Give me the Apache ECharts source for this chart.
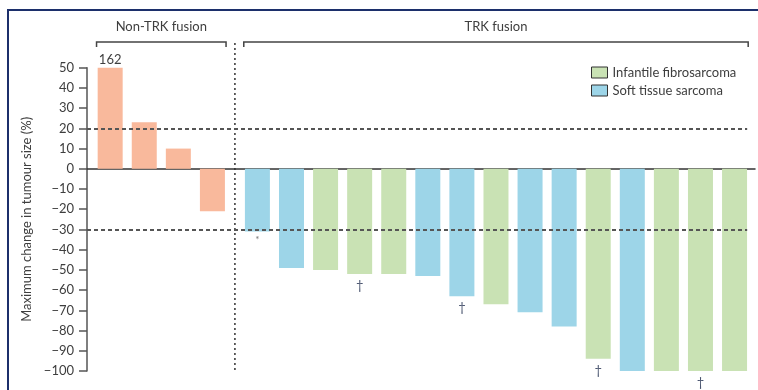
<!DOCTYPE html>
<html>
<head>
<meta charset="utf-8">
<script src="https://cdn.jsdelivr.net/npm/echarts@6/dist/echarts.min.js"></script>
<style>
  html, body { margin: 0; padding: 0; background: #fff; }
  #wrap { position: relative; width: 758px; height: 390px; overflow: hidden; }
  #chart { position: absolute; left: 0; top: 0; width: 758px; height: 390px; }
  #frame { position: absolute; left: 7px; top: 9px; width: 800px; height: 420px;
           border-top: 2px solid #1c2f6b; border-left: 2px solid #1c2f6b; pointer-events: none; }
</style>
</head>
<body>
<div id="wrap"><div id="chart"></div><div id="frame"></div></div>
<script>
// ---- data ----
const groupLabels = ['Non-TRK fusion', 'TRK fusion'];
const nonTrkValues = [162, 23, 10, -21];
const trkValues = [-31, -49, -50, -52, -52, -53, -63, -67, -71, -78, -94, -100, -100, -100, -100];
const trkTypes = ['S', 'S', 'I', 'I', 'I', 'S', 'S', 'I', 'S', 'S', 'I', 'S', 'I', 'I', 'I'];
const trkNotes = ['*', '', '', '†', '', '', '†', '', '', '', '†', '', '', '†', ''];
const typeNames = { I: 'Infantile fibrosarcoma', S: 'Soft tissue sarcoma' };
const thresholds = [20, -30];
const yMin = -100, yMax = 50, yStep = 10;
const yAxisName = 'Maximum change in tumour size (%)';

// ---- layout constants ----
const FONT = 'Lato, "Liberation Sans", sans-serif';
const TEXT = '#3e3e3e';
const NON_START = 0.68, TRK_START = 5.0, HALF = 0.4, X_MAX = 19.6;
const SEP_X = (NON_START + nonTrkValues.length - 1 + TRK_START) / 2;
const colors = { N: '#f9b99c', I: '#c9e2b4', S: '#9dd5e8' };

const nonData = nonTrkValues.map((v, i) => {
  const item = { value: [NON_START + i, Math.min(v, yMax)] };
  if (v > yMax) item.label = { show: true, position: 'top', distance: 1, formatter: String(v),
    color: TEXT, fontSize: 13, fontFamily: FONT };
  return item;
});
function trkData(type) {
  const out = [];
  trkValues.forEach((v, i) => {
    if (trkTypes[i] !== type) return;
    const item = { value: [TRK_START + i, v] };
    if (trkNotes[i]) item.label = { show: true, position: 'bottom', distance: trkNotes[i] === '*' ? 3 : 5,
      formatter: trkNotes[i], color: trkNotes[i] === '*' ? '#777' : '#4b5670',
      fontSize: trkNotes[i] === '*' ? 10 : 13, fontFamily: FONT };
    out.push(item);
  });
  return out;
}
const xEnd = TRK_START + trkValues.length - 1 + 0.37;

const chart = echarts.init(document.getElementById('chart'), null, { renderer: 'canvas' });
const baseBar = { type: 'bar', barWidth: 25, barGap: '-100%', clip: true, silent: true, animation: false };
chart.setOption({
  animation: false,
  grid: { left: 87, right: 3, top: 67.7, bottom: 19, outerBoundsMode: 'none', containLabel: false },
  legend: {
    data: [typeNames.I, typeNames.S], orient: 'vertical', left: 586, top: 61,
    itemWidth: 16, itemHeight: 11, itemGap: 5, icon: 'rect', selectedMode: false,
    itemStyle: { borderColor: '#333', borderWidth: 1 },
    textStyle: { fontSize: 13, color: TEXT, fontFamily: FONT }
  },
  xAxis: {
    type: 'value', min: 0, max: X_MAX,
    axisLine: { show: true, onZero: true, lineStyle: { color: '#333', width: 1.5 } },
    axisTick: { show: false }, axisLabel: { show: false }, splitLine: { show: false }
  },
  yAxis: {
    type: 'value', min: yMin, max: yMax, interval: yStep,
    name: yAxisName, nameLocation: 'middle', nameGap: 49,
    nameTextStyle: { fontSize: 13, color: TEXT, fontFamily: FONT },
    axisLine: { show: true, lineStyle: { color: '#555', width: 1.5 } },
    axisTick: { show: true, length: 8, lineStyle: { color: '#555', width: 1.5 } },
    axisLabel: { margin: 13, fontSize: 13, color: TEXT, fontFamily: FONT,
      formatter: v => String(v).replace('-', '\u2212') },
    splitLine: { show: false }
  },
  series: [
    Object.assign({}, baseBar, {
      name: groupLabels[0], data: nonData, itemStyle: { color: colors.N },
      markLine: {
        silent: true, symbol: 'none', animation: false,
        label: { show: false },
        lineStyle: { type: [4, 3], width: 2, color: '#555' },
        data: thresholds.map(t => [{ coord: [0, t] }, { coord: [xEnd, t] }])
      }
    }),
    Object.assign({}, baseBar, { name: typeNames.I, data: trkData('I'), itemStyle: { color: colors.I } }),
    Object.assign({}, baseBar, { name: typeNames.S, data: trkData('S'), itemStyle: { color: colors.S } })
  ]
});

// ---- decorations derived from axis scales ----
const px = (x, y) => chart.convertToPixel({ xAxisIndex: 0, yAxisIndex: 0 }, [x, y]);
const BR_Y = 42, LABEL_Y = 27, TICK = 5;
function bracket(x0, x1, text) {
  const a = px(x0, 0)[0], b = px(x1, 0)[0];
  return [
    { type: 'polyline', silent: true, shape: { points: [[a, BR_Y + TICK], [a, BR_Y], [b, BR_Y], [b, BR_Y + TICK]] },
      style: { stroke: '#444', lineWidth: 1.5, fill: null } },
    { type: 'text', silent: true, x: (a + b) / 2, y: LABEL_Y,
      style: { text: text, fill: TEXT, fontSize: 13, fontFamily: FONT, align: 'center', verticalAlign: 'middle' } }
  ];
}
const sx = px(SEP_X, 0)[0];
const yBottom = px(0, yMin)[1];
chart.setOption({
  graphic: [].concat(
    bracket(NON_START - HALF, NON_START + nonTrkValues.length - 1 + HALF, groupLabels[0]),
    bracket(TRK_START - HALF, TRK_START + trkValues.length - 1 + HALF, groupLabels[1]),
    [{ type: 'line', silent: true, shape: { x1: sx, y1: BR_Y + 1, x2: sx, y2: yBottom },
       style: { stroke: '#333', lineWidth: 1.5, lineDash: [2, 3] } }]
  )
});
</script>
</body>
</html>
